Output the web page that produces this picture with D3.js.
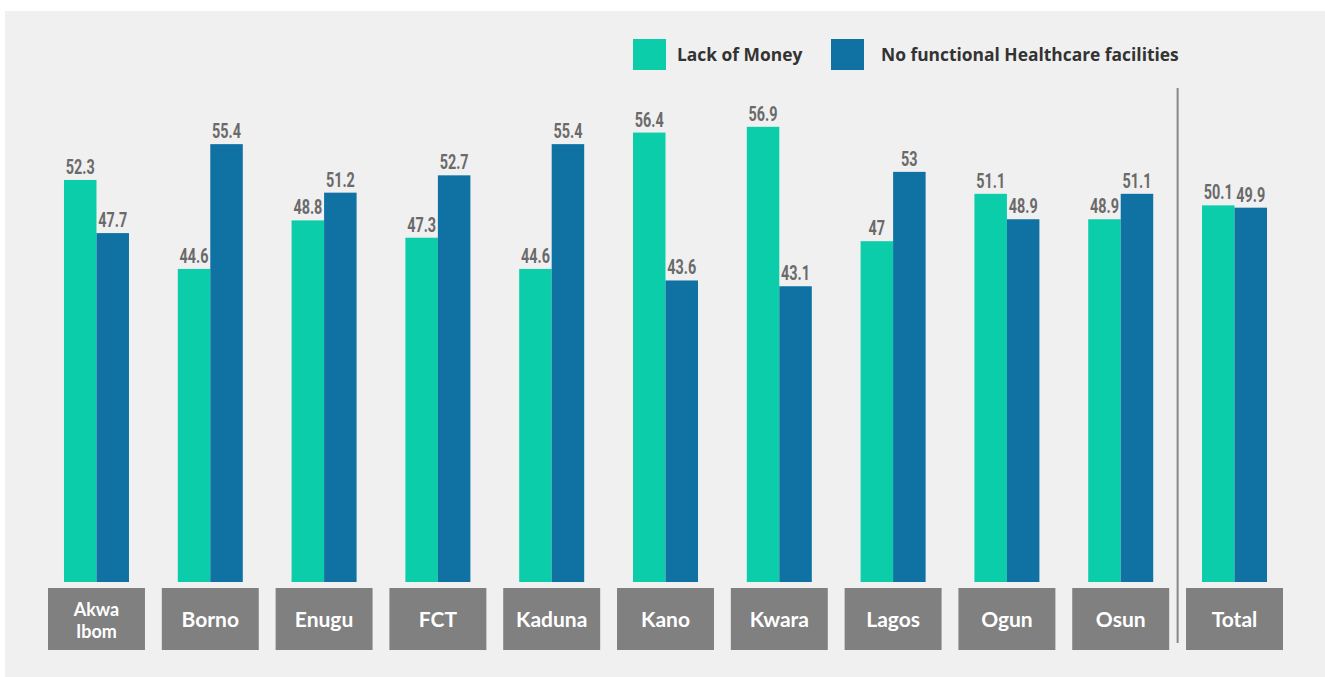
<!DOCTYPE html>
<html>
<head>
<meta charset="utf-8">
<script src="https://cdn.jsdelivr.net/npm/d3@7"></script>
<style>
  html, body { margin: 0; padding: 0; background: #ffffff; }
  svg { display: block; }
</style>
</head>
<body>
<svg id="chart" width="1325" height="677"></svg>
<script>
const categories = ["Akwa Ibom", "Borno", "Enugu", "FCT", "Kaduna", "Kano", "Kwara", "Lagos", "Ogun", "Osun", "Total"];
const seriesNames = ["Lack of Money", "No functional Healthcare facilities"];
const lackOfMoney = [52.3, 44.6, 48.8, 47.3, 44.6, 56.4, 56.9, 47, 51.1, 48.9, 50.1];
const noFacilities = [47.7, 55.4, 51.2, 52.7, 55.4, 43.6, 43.1, 53, 48.9, 51.1, 49.9];
const colors = ["#0ccda9", "#0f72a3"];

const svg = d3.select("#chart");
const W = 1325, H = 677;

// panel background
svg.append("rect").attr("x", 5).attr("y", 11).attr("width", W - 5).attr("height", H - 11).attr("fill", "#f0f0f0");

const baseline = 582;
const x = d3.scaleBand().domain(categories).range([48, 1283]).paddingInner(0.148).paddingOuter(0);
const x1 = d3.scaleBand().domain(seriesNames).range([0, 65]).padding(0);
const y = d3.scaleLinear().domain([17.5, 60]).range([baseline, 91]);

const data = categories.map((c, i) => ({ cat: c, vals: [lackOfMoney[i], noFacilities[i]] }));

const groups = svg.append("g").selectAll("g").data(data).join("g")
  .attr("transform", d => `translate(${x(d.cat) + (x.bandwidth() - 65) / 2},0)`);

groups.selectAll("rect").data(d => d.vals.map((v, j) => ({ v, j }))).join("rect")
  .attr("x", d => x1(seriesNames[d.j]))
  .attr("width", x1.bandwidth())
  .attr("y", d => y(d.v))
  .attr("height", d => baseline - y(d.v))
  .attr("fill", d => colors[d.j]);

groups.selectAll("text.val").data(d => d.vals.map((v, j) => ({ v, j }))).join("text")
  .attr("class", "val")
  .attr("transform", d => `translate(${x1(seriesNames[d.j]) + x1.bandwidth() / 2},${y(d.v) - 6}) scale(0.72,1)`)
  .attr("text-anchor", "middle")
  .attr("font-family", "Roboto, 'DejaVu Sans Condensed', sans-serif")
  .attr("font-weight", "bold")
  .attr("font-size", 20)
  .attr("fill", "#6a6a6a")
  .text(d => d.v);

// category boxes
const boxes = svg.append("g").selectAll("g").data(categories).join("g")
  .attr("transform", d => `translate(${x(d)},588)`);
boxes.append("rect").attr("width", x.bandwidth()).attr("height", 62).attr("fill", "#808080");
boxes.each(function(d) {
  const lines = d.split(" ");
  const g = d3.select(this);
  const fs = lines.length > 1 ? 18 : 21;
  const lh = 22;
  const startY = 38.5 - (lines.length - 1) * lh / 2;
  lines.forEach((ln, i) => {
    g.append("text")
      .attr("text-anchor", "middle")
      .attr("font-family", "Lato, 'Open Sans', sans-serif")
      .attr("font-weight", "bold")
      .attr("font-size", fs)
      .attr("fill", "#ffffff")
      .attr("x", x.bandwidth() / 2).attr("y", startY + i * lh).text(ln);
  });
});

// divider before Total
const divX = (x("Osun") + x.bandwidth() + x("Total")) / 2;
svg.append("line").attr("x1", divX).attr("x2", divX).attr("y1", 88).attr("y2", 643)
  .attr("stroke", "#888888").attr("stroke-width", 2);

// legend
const legend = svg.append("g");
const legendX = [633, 831];
const legendTextX = [677, 881];
seriesNames.forEach((s, i) => {
  legend.append("rect").attr("x", legendX[i]).attr("y", 39).attr("width", 33).attr("height", 31).attr("fill", colors[i]);
  legend.append("text").attr("x", legendTextX[i]).attr("y", 61)
    .attr("font-family", "'Open Sans', Lato, sans-serif")
    .attr("font-weight", "bold")
    .attr("font-size", 17.4)
    .attr("fill", "#333333")
    .text(s);
});
</script>
</body>
</html>
